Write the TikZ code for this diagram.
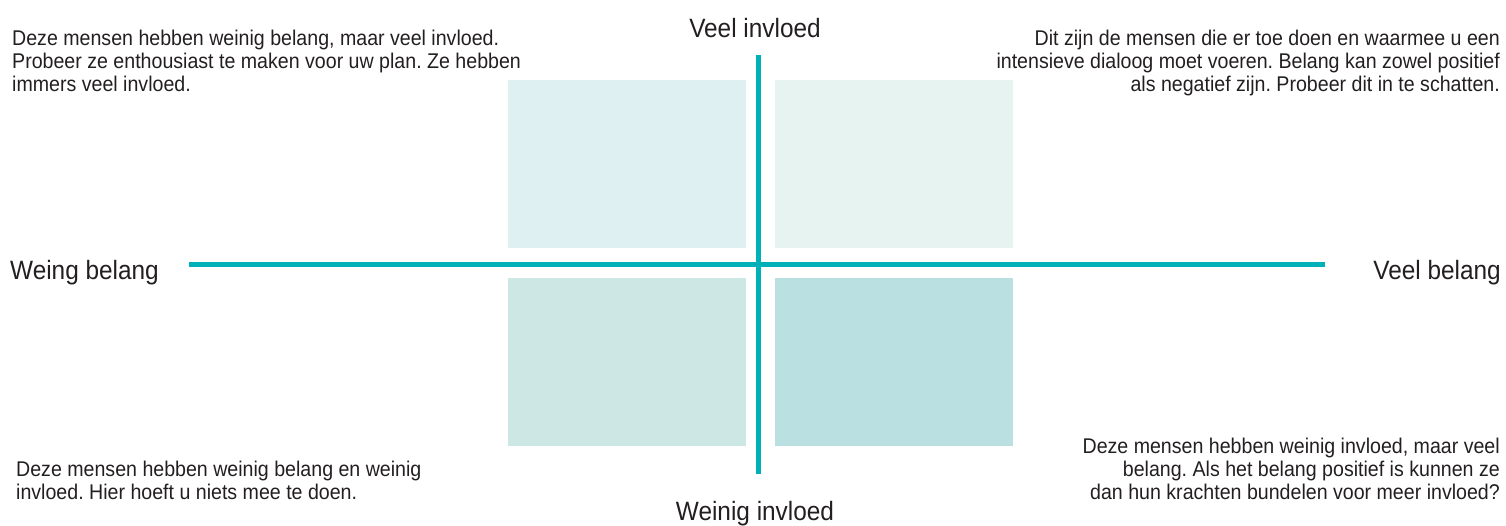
\documentclass[tikz,border=0pt]{standalone}
\usepackage{fontspec}
\setmainfont{Liberation Sans}[FakeStretch=0.92]
\usetikzlibrary{positioning}
\definecolor{asteal}{HTML}{00B0B9}
\definecolor{tekst}{HTML}{231F20}
\definecolor{vakA}{HTML}{DFF0F3}
\definecolor{vakB}{HTML}{E6F3F0}
\definecolor{vakC}{HTML}{CDE7E4}
\definecolor{vakD}{HTML}{BBE0E1}
\frenchspacing
\tikzset{
	kwadrant vak/.style={
		draw=none, inner sep=0pt, outer sep=0pt,
		minimum width=238pt, minimum height=168pt
	},
	as lijn/.style={
		draw=asteal, line width=5pt
	},
	as label/.style={
		inner sep=0pt, text=tekst,
		font=\fontsize{26.5}{30}\selectfont
	},
	uitleg tekst/.style={
		inner sep=0pt, text=tekst,
		font=\fontsize{21.3}{23}\selectfont
	}
}
\begin{document}
\begin{tikzpicture}[x=1pt,y=-1pt]
	\useasboundingbox (0,0) rectangle (1506,525);
	
	\foreach \n/\x/\y/\c in {lb/627/164/vakA, rb/893.5/163.5/vakB, lo/627/361.5/vakC, ro/893.5/361.5/vakD} {
		\node[kwadrant vak, fill=\c] (\n) at (\x,\y) {};
	}
	
	\coordinate (links) at (189,264);
	\coordinate (rechts) at (1325,264);
	\coordinate (boven) at (758,55);
	\coordinate (onder) at (758,474);
	\draw[as lijn] (links) -- (rechts);
	\draw[as lijn] (boven) -- (onder);
	
	\node[as label, anchor=base] (veel-invloed) at (755,37) {Veel invloed};
	\node[as label, anchor=base] (weinig-invloed) at (755,520) {Weinig invloed};
	\node[as label, anchor=base west] (weing-belang) at (10,279) {Weing belang};
	\node[as label, anchor=base east] (veel-belang) at (1501,279) {Veel belang};
	
	% uitleg per kwadrant
	\node[uitleg tekst, anchor=north west, align=left] (tekst-lb) at (12,30) {
		Deze mensen hebben weinig belang, maar veel invloed.\\
		Probeer ze enthousiast te maken voor uw plan. Ze hebben\\
		immers veel invloed.
	};
	\node[uitleg tekst, anchor=north east, align=right] (tekst-rb) at (1500,30) {
		Dit zijn de mensen die er toe doen en waarmee u een\\
		intensieve dialoog moet voeren. Belang kan zowel positief\\
		als negatief zijn. Probeer dit in te schatten.
	};
	\node[uitleg tekst, anchor=north west, align=left] (tekst-lo) at (16,461) {
		Deze mensen hebben weinig belang en weinig\\
		invloed. Hier hoeft u niets mee te doen.
	};
	\node[uitleg tekst, anchor=north east, align=right] (tekst-ro) at (1500,438) {
		Deze mensen hebben weinig invloed, maar veel\\
		belang. Als het belang positief is kunnen ze\\
		dan hun krachten bundelen voor meer invloed?
	};
\end{tikzpicture}
\end{document}
